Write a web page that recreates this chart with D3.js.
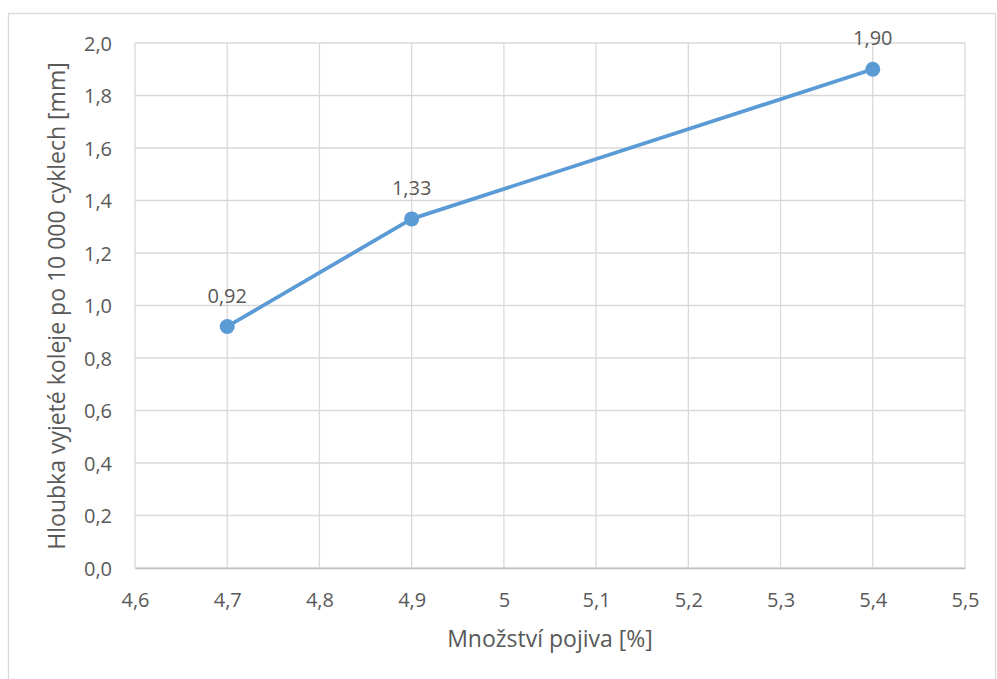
<!DOCTYPE html>
<html><head><meta charset="utf-8">
<script src="https://cdn.jsdelivr.net/npm/d3@7"></script>
<style>body{margin:0;background:#fff}svg{display:block}text{font-family:"Open Sans",sans-serif;fill:#595959}</style>
</head><body><svg id="c" width="997" height="679"></svg>
<script>
const xValues = [4.7, 4.9, 5.4];
const yValues = [0.92, 1.33, 1.90];
const xTicks = [4.6, 4.7, 4.8, 4.9, 5.0, 5.1, 5.2, 5.3, 5.4, 5.5];
const yTicks = [0, 0.2, 0.4, 0.6, 0.8, 1.0, 1.2, 1.4, 1.6, 1.8, 2.0];
const xTitle = "Množství pojiva [%]";
const yTitle = "Hloubka vyjeté koleje po 10 000 cyklech [mm]";

const svg = d3.select("#c");
svg.append("rect").attr("x",8.5).attr("y",13.5).attr("width",987).attr("height",680)
  .attr("fill","#fff").attr("stroke","#d9d9d9").attr("stroke-width",1.3);
const L=135,R=965,T=43,B=568;
const x=d3.scaleLinear().domain([4.6,5.5]).range([L,R]);
const y=d3.scaleLinear().domain([0,2]).range([B,T]);
const fmtX=d=>(Math.round(d*10)/10===5?"5":d.toFixed(1)).replace(".",",");
const fmtY=d=>d.toFixed(1).replace(".",",");

const g=svg.append("g");
g.selectAll(".vg").data(xTicks).join("line").attr("x1",d=>x(d)).attr("x2",d=>x(d))
 .attr("y1",T).attr("y2",B).attr("stroke","#d9d9d9").attr("stroke-width",1.3);
g.selectAll(".hg").data(yTicks).join("line").attr("y1",d=>y(d)).attr("y2",d=>y(d))
 .attr("x1",L).attr("x2",R).attr("stroke","#d9d9d9").attr("stroke-width",1.3);

const xa=svg.append("g").attr("transform",`translate(0,${B})`)
 .call(d3.axisBottom(x).tickValues(xTicks).tickFormat(fmtX).tickSize(0));
xa.select(".domain").attr("stroke","#bfbfbf").attr("stroke-width",1.3);
xa.selectAll("text").attr("dy",null).attr("y",39).style("font-size","20px").style("font-family","Open Sans").attr("fill","#595959");
const ya=svg.append("g").attr("transform",`translate(${L},0)`)
 .call(d3.axisLeft(y).tickValues(yTicks).tickFormat(fmtY).tickSize(0).tickPadding(23));
ya.select(".domain").remove();
ya.selectAll("text").attr("dy","0.35em").style("font-size","20px").style("font-family","Open Sans").attr("fill","#595959");

const pts=xValues.map((v,i)=>[v,yValues[i]]);
svg.append("path").datum(pts).attr("fill","none").attr("stroke","#5b9bd5").attr("stroke-width",3.75)
 .attr("stroke-linejoin","round").attr("d",d3.line().x(d=>x(d[0])).y(d=>y(d[1])));
svg.selectAll(".pt").data(pts).join("circle").attr("cx",d=>x(d[0])).attr("cy",d=>y(d[1]))
 .attr("r",7.5).attr("fill","#5b9bd5");
svg.selectAll(".lb").data(pts).join("text").attr("x",d=>x(d[0])).attr("y",d=>y(d[1])-24)
 .attr("text-anchor","middle").style("font-size","20px").attr("fill","#404040")
 .text(d=>d[1].toFixed(2).replace(".",","));

svg.append("text").attr("x",(L+R)/2).attr("y",647).attr("text-anchor","middle")
 .style("font-size","23px").text(xTitle);
svg.append("text").attr("transform",`translate(65,306) rotate(-90)`).attr("text-anchor","middle")
 .style("font-size","23px").text(yTitle);
</script></body></html>
